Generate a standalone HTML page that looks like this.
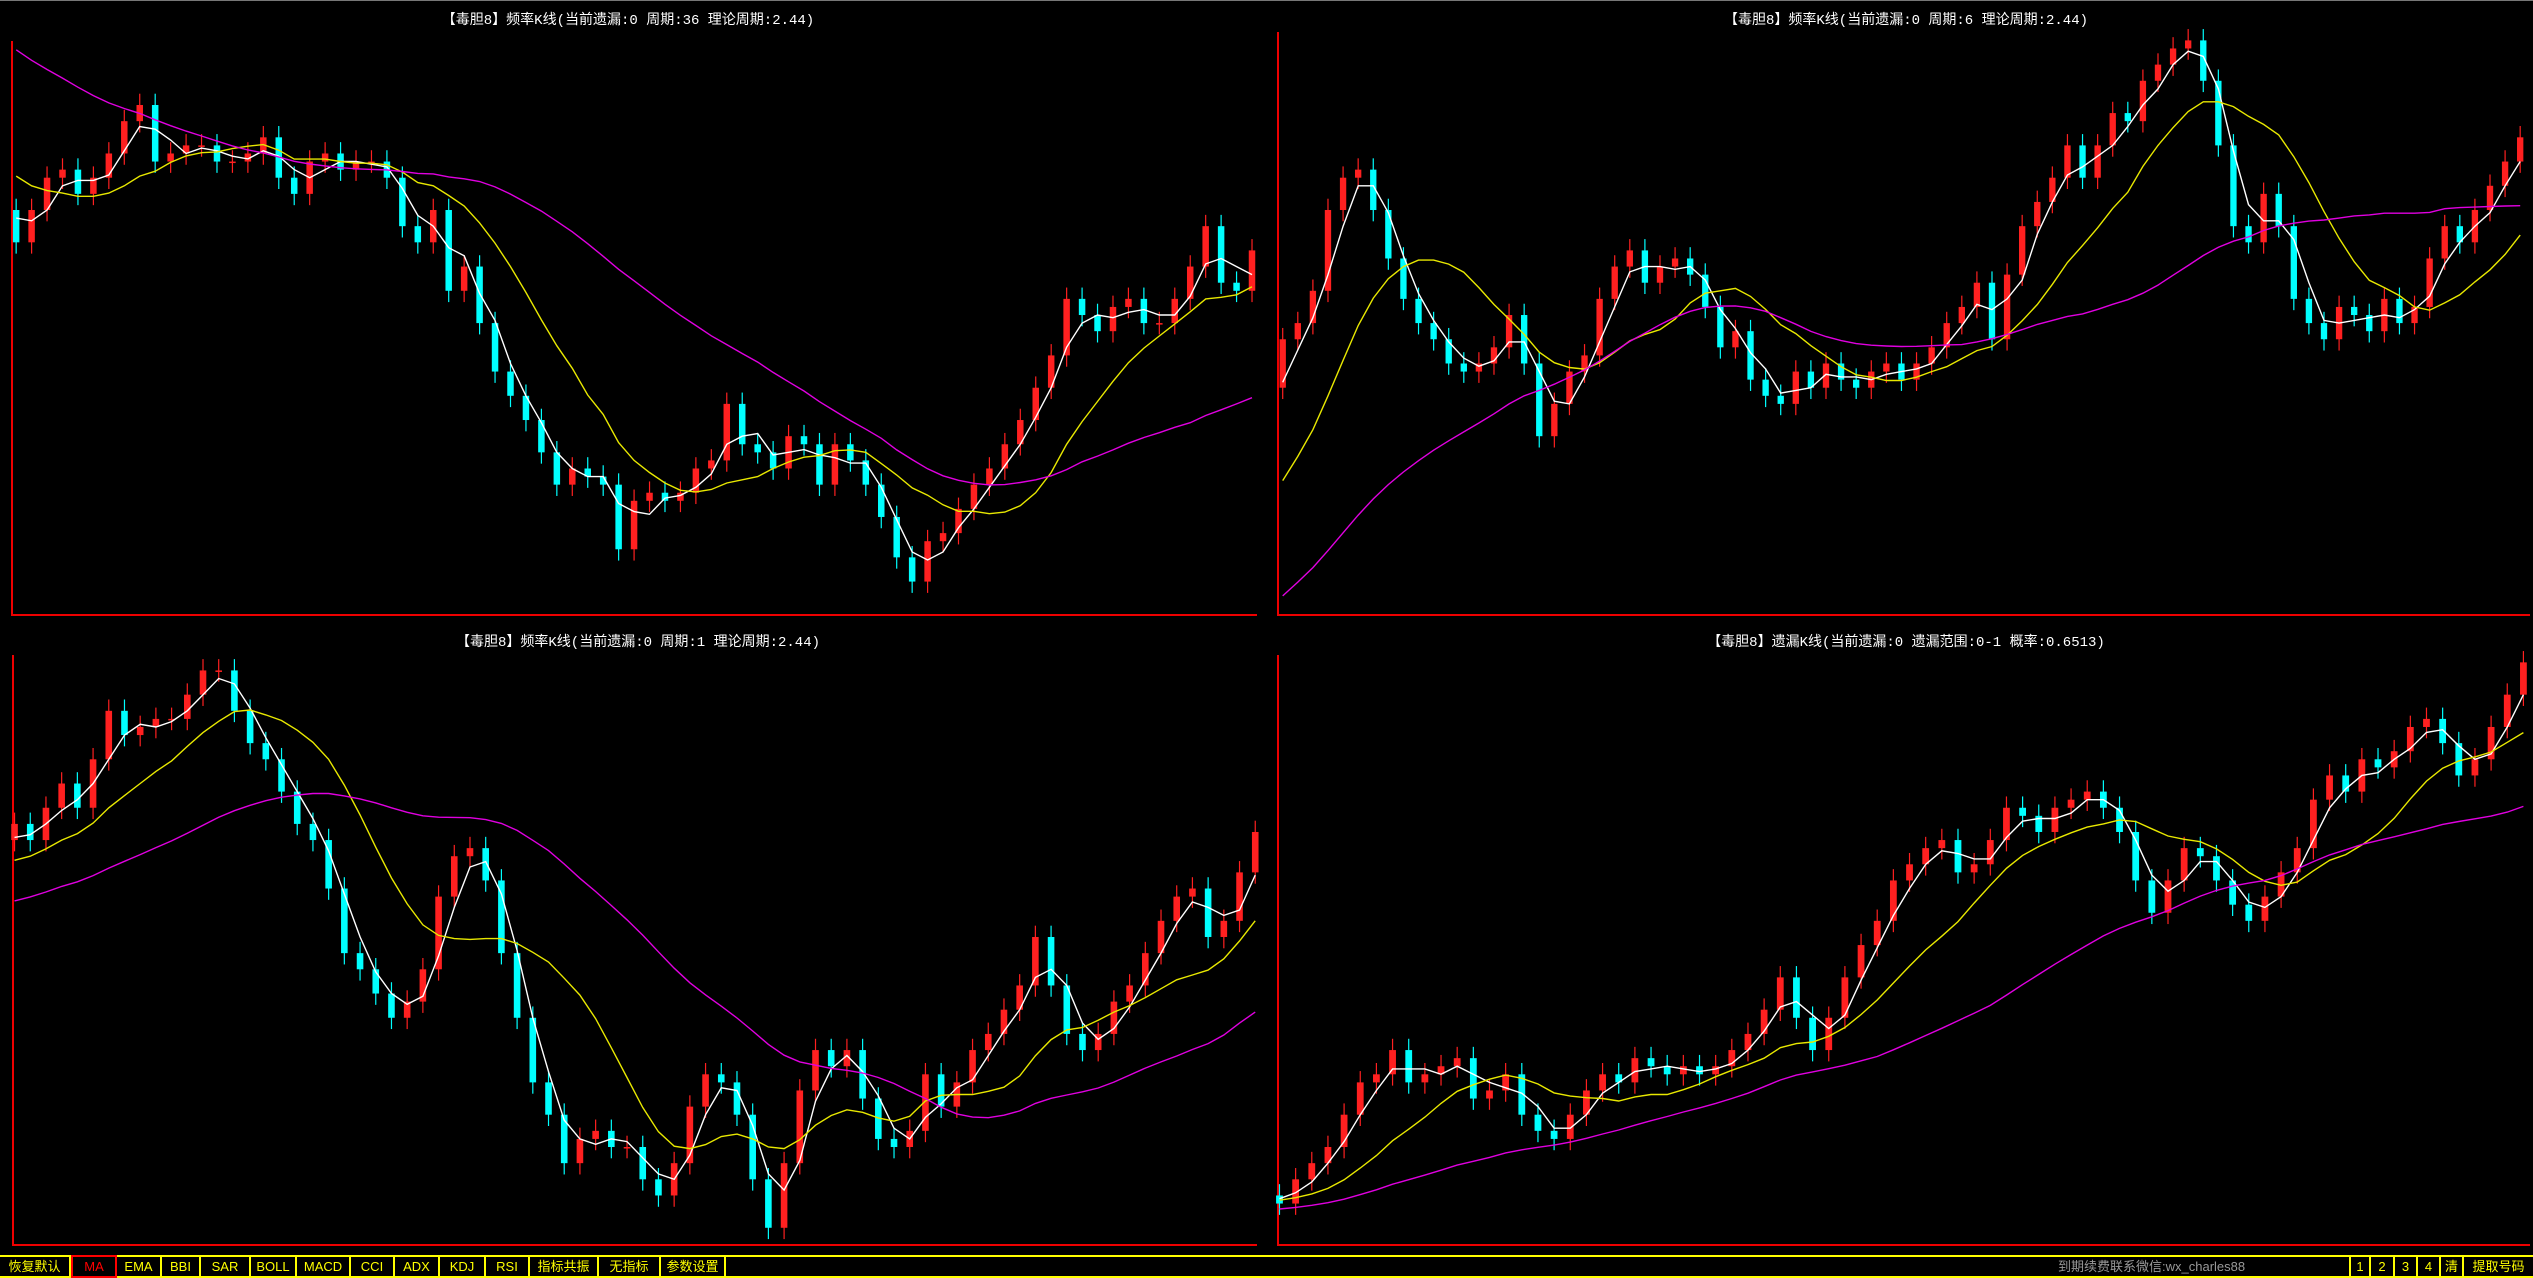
<!DOCTYPE html>
<html><head><meta charset="utf-8">
<style>
html,body{margin:0;padding:0;background:#000;width:2533px;height:1278px;overflow:hidden}
svg{position:absolute;left:0;top:0}
.bar{position:absolute;left:0;top:1255px;width:2533px;border-top:2px solid #ff0;border-bottom:2px solid #ff0;box-sizing:border-box;height:23px}
.btn{position:absolute;top:0;height:19px;border-right:2px solid #ff0;color:#ff0;font:13px "Liberation Sans","WenQuanYi Zen Hei",sans-serif;line-height:19px;text-align:center;box-sizing:border-box}
.btn.on{border:2px solid #f00;color:#f00;top:-2px;height:23px;line-height:19px}
.info{position:absolute;top:0;left:2058px;color:#999;font:13px "Liberation Sans","WenQuanYi Zen Hei",sans-serif;line-height:19px}
</style></head><body>
<svg id="chart" width="2533" height="1278" xmlns="http://www.w3.org/2000/svg">
<line x1="0" y1="0.5" x2="2533" y2="0.5" stroke="#777"/>
<text x="628" y="24" fill="#fff" font-size="14" text-anchor="middle" font-family="Liberation Mono, WenQuanYi Zen Hei, monospace">【毒胆8】频率K线(当前遗漏:0 周期:36 理论周期:2.44)</text>
<text x="1906" y="24" fill="#fff" font-size="14" text-anchor="middle" font-family="Liberation Mono, WenQuanYi Zen Hei, monospace">【毒胆8】频率K线(当前遗漏:0 周期:6 理论周期:2.44)</text>
<text x="638" y="646" fill="#fff" font-size="14" text-anchor="middle" font-family="Liberation Mono, WenQuanYi Zen Hei, monospace">【毒胆8】频率K线(当前遗漏:0 周期:1 理论周期:2.44)</text>
<text x="1906" y="646" fill="#fff" font-size="14" text-anchor="middle" font-family="Liberation Mono, WenQuanYi Zen Hei, monospace">【毒胆8】遗漏K线(当前遗漏:0 遗漏范围:0-1 概率:0.6513)</text>
</svg>
<div class="bar">
<div class="btn" style="left:0;width:71px">恢复默认</div>
<div class="btn on" style="left:71px;width:46px">MA</div>
<div class="btn" style="left:117px;width:45px">EMA</div>
<div class="btn" style="left:162px;width:39px">BBI</div>
<div class="btn" style="left:201px;width:50px">SAR</div>
<div class="btn" style="left:251px;width:46px">BOLL</div>
<div class="btn" style="left:297px;width:54px">MACD</div>
<div class="btn" style="left:351px;width:44px">CCI</div>
<div class="btn" style="left:395px;width:45px">ADX</div>
<div class="btn" style="left:440px;width:46px">KDJ</div>
<div class="btn" style="left:486px;width:44px">RSI</div>
<div class="btn" style="left:530px;width:69px">指标共振</div>
<div class="btn" style="left:599px;width:62px">无指标</div>
<div class="btn" style="left:661px;width:65px">参数设置</div>
<div class="info">到期续费联系微信:wx_charles88</div>
<div class="btn" style="left:2349px;width:22px;border-left:2px solid #ff0">1</div>
<div class="btn" style="left:2371px;width:24px">2</div>
<div class="btn" style="left:2395px;width:23px">3</div>
<div class="btn" style="left:2418px;width:23px">4</div>
<div class="btn" style="left:2441px;width:23px">清</div>
<div class="btn" style="left:2464px;width:69px;border-right:none">提取号码</div>
</div>
<script>
// closes per panel (price units; higher = up)
const closesTL = [250,270,290,295,280,290,305,325,335,300,305,310,310,300,300,305,315,290,280,300,305,295,300,300,290,260,250,270,220,235,200,170,155,140,120,100,110,105,100,60,90,95,90,95,110,115,150,125,120,110,130,125,100,125,115,100,80,55,40,65,70,85,100,110,125,140,160,180,215,205,195,210,215,200,200,215,235,260,225,220,245];
const closesTR = [190,200,220,270,290,295,270,240,215,200,190,175,170,175,185,205,175,130,150,170,180,215,235,245,225,235,240,230,210,185,195,165,155,150,170,160,175,165,160,170,175,165,175,185,200,210,225,190,230,260,275,290,310,290,310,330,325,350,360,370,375,350,310,260,250,280,260,215,200,190,210,205,195,215,200,210,240,260,250,270,285,300,315];
const closesBL = [280,270,290,305,290,320,350,335,340,345,345,360,375,375,350,330,320,300,280,270,240,200,190,175,160,170,190,235,260,265,245,200,160,120,100,70,85,90,80,80,60,50,70,105,125,120,100,60,30,70,115,140,130,140,110,85,80,90,125,105,120,140,150,165,180,210,180,150,140,150,170,180,200,220,235,240,210,220,250,275];
const closesBR = [45,60,70,80,100,120,125,140,120,125,130,135,110,115,125,100,90,85,100,115,125,120,135,130,125,130,125,130,140,150,165,185,160,140,160,185,205,220,245,255,265,270,250,255,270,290,285,275,290,295,300,290,275,245,225,245,265,260,245,230,220,235,250,265,295,310,300,320,315,325,340,345,330,310,320,340,360,380];
// closes before the visible window (used only for moving averages)
const priorTL = [470,465,460,455,450,445,440,430,425,420,415,410,400,395,390,380,370,365,360,350,340,330,320,310,300,290,285,280,275,270];
const priorTR = [-60,-55,-50,-45,-40,-35,-30,-25,-20,-10,-5,0,5,10,15,20,25,30,35,40,45,50,55,60,70,80,100,120,140,160];
const priorBL = [190,195,200,200,205,205,210,210,215,215,220,220,225,225,230,230,235,235,240,240,240,245,245,250,250,255,255,260,265,270];
const priorBR = [30,30,32,32,34,34,36,36,38,38,40,40,40,42,42,42,44,44,44,45,45,45,46,46,47,47,48,48,49,50];
</script>
<script>
const svg = document.getElementById('chart');
const NS = 'http://www.w3.org/2000/svg';
const K = 1.6155;
const panels = [
  {name:'top-left', data:closesTL, prior:priorTL, x0:10, x1:775, base:400, fl:12, fr:1257, ft:41, fb:615},
  {name:'top-right', data:closesTR, prior:priorTR, x0:794, x1:1560, base:400, fl:1278, fr:2530, ft:32, fb:615},
  {name:'bottom-left', data:closesBL, prior:priorBL, x0:9, x1:777, base:790, fl:13, fr:1257, ft:655, fb:1245},
  {name:'bottom-right', data:closesBR, prior:priorBR, x0:792, x1:1562, base:790, fl:1278, fr:2530, ft:655, fb:1245}
];
function mk(tag, attrs){const e=document.createElementNS(NS,tag);for(const k in attrs)e.setAttribute(k,attrs[k]);return e;}
function ma(all,n,off){const out=[];for(let i=off;i<all.length;i++){const s=all.slice(Math.max(0,i-n+1),i+1);out.push(s.reduce((a,b)=>a+b,0)/s.length);}return out;}
panels.forEach(p=>{
  const g = mk('g',{});
  
  
  svg.appendChild(g);
  const fr = mk('path',{d:`M${p.fl} ${p.ft} V${p.fb} H${p.fr}`,stroke:'#e00',fill:'none','stroke-width':2});
  
  
  g.appendChild(fr);
  const n = p.data.length;
  const step = (p.x1-p.x0)/(n-1);
  const xS = i => (p.x0 + i*step)*K;
  const yS = v => (p.base - v)*K;
  const bw = Math.max(3, step*K*0.42);
  p.data.forEach((c,i)=>{
    const o = i>0 ? p.data[i-1] : p.prior[p.prior.length-1];
    const up = c>=o;
    const col = up ? '#ff2020' : '#00ffff';
    const hi = Math.max(o,c)+7, lo = Math.min(o,c)-7;
    const x = xS(i);
    const w = mk('line',{x1:x,x2:x,y1:yS(hi),y2:yS(lo),stroke:col,'stroke-width':1.2});
    
    
    g.appendChild(w);
    const top = yS(Math.max(o,c)), h = Math.max(1.5, yS(Math.min(o,c))-top);
    const r = mk('rect',{x:x-bw/2,y:top,width:bw,height:h,fill:col});
    
    
    g.appendChild(r);
  });
  const all = p.prior.concat(p.data);
  [[3,'#ffffff','ma-short'],[10,'#e8e800','ma-mid'],[30,'#e000e0','ma-long']].forEach(([len,col,nm])=>{
    const m = ma(all,len,p.prior.length);
    const d = m.map((v,i)=>(i?'L':'M')+xS(i).toFixed(1)+' '+yS(v).toFixed(1)).join(' ');
    const l = mk('path',{d:d,stroke:col,fill:'none','stroke-width':1.4});
    
    
    g.appendChild(l);
  });
});
</script>
</body></html>
